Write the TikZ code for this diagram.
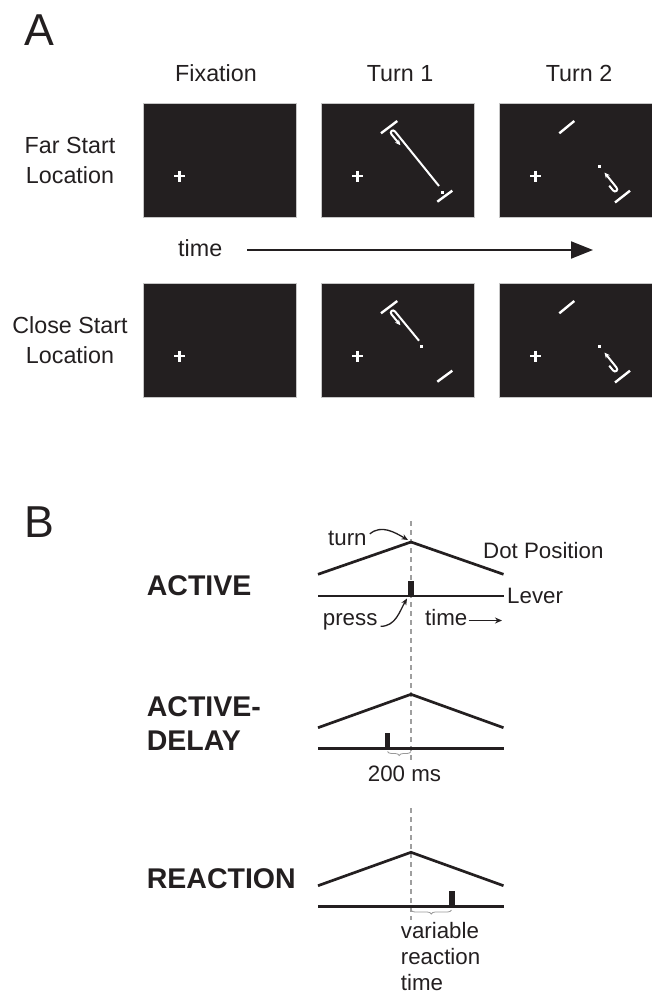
\documentclass[tikz,border=0pt]{standalone}
\usepackage{fontspec}
\setmainfont{Liberation Sans}
\usetikzlibrary{arrows.meta,decorations.pathreplacing,calc}
\definecolor{ink}{HTML}{231F20}
\begin{document}
\begin{tikzpicture}[x=1pt,y=-1pt,
  alab/.style={text=ink,font=\fontsize{23.3}{29}\selectfont,inner sep=0pt,anchor=base},
  blab/.style={text=ink,font=\fontsize{22.3}{26}\selectfont,inner sep=0pt,anchor=base west},
  cond/.style={text=ink,font=\fontsize{28.5}{33}\selectfont\bfseries,inner sep=0pt,anchor=base west},
  big/.style={text=ink,font=\fontsize{44.7}{50}\selectfont,inner sep=0pt,anchor=base west},
  screen/.style={fill=ink,draw=gray!45,line width=0.8pt},
  wl/.style={white,line width=2pt},
  wbar/.style={white,line width=2.4pt},
  wplus/.style={white,line width=2.8pt},
  wtip/.style={-{Stealth[length=5.5pt,width=5pt]}},
  trace/.style={ink,line width=2.7pt},
  lever/.style={ink,line width=2.7pt},
  turnline/.style={gray!75,line width=1.2pt,dash pattern=on 5pt off 4pt},
  callout/.style={ink,line width=1.3pt,-{Stealth[length=6.5pt,width=5.5pt]}},
  brc/.style={gray!80,line width=0.8pt,decorate,decoration={brace,amplitude=4pt}}
]
\useasboundingbox (0,0) rectangle (652,993);

% ---------------- Panel A ----------------
\node[big] (labA) at (24,45) {A};
\node[alab] (tFix) at (216,81.7) {Fixation};
\node[alab] (tT1) at (400,81.7) {Turn 1};
\node[alab] (tT2) at (579,81.7) {Turn 2};
\node[alab] (far1) at (70,153.3) {Far Start};
\node[alab] (far2) at (70,183.3) {Location};
\node[alab] (close1) at (70,333.3) {Close Start};
\node[alab] (close2) at (70,363.3) {Location};
\node[alab,anchor=base west] (timeA) at (178,256.7) {time};
\coordinate (tstart) at (247,250);
\coordinate (tend) at (593,250);
\draw[ink,line width=2pt,-{Triangle[length=22pt,width=17pt]}] (tstart) -- (tend);

% screens: row y0 = 103 (far) and 283 (close)
\foreach \yo in {103,283}{
  \foreach \xo in {143,321,499}{
    \draw[screen] (\xo,\yo) rectangle ++(153,114);
    \draw[wplus] (\xo+31,\yo+73) -- (\xo+42,\yo+73);
    \draw[wplus] (\xo+36.5,\yo+67.5) -- (\xo+36.5,\yo+78.5);
  }
  % Turn 1 panel targets
  \begin{scope}[shift={(321,\yo)}]
    \draw[wbar] (60,30.3) -- (76.3,18);
    \draw[wbar] (116.3,98.7) -- (131.3,87.7);
  \end{scope}
  % Turn 2 panel
  \begin{scope}[shift={(499,\yo)}]
    \draw[wbar] (60.3,30.3) -- (75.3,18);
    \draw[wbar] (116,99.5) -- (131,87.7);
    \fill[white] (99,61.7) rectangle (102,64.7);
    \draw[wl,wtip] (110.2,82.7) -- (114,87.35) .. controls (116.2,90.06) and (119.7,87.2) .. (117.5,84.5) -- (105.5,69.6);
  \end{scope}
}
% Turn 1 far trajectory
\begin{scope}[shift={(321,103)}]
  \draw[wl,wtip] (118,83) -- (74,28.5) .. controls (71.8,25.8) and (68.3,28.6) .. (70.5,31.35) -- (79.4,42.2);
  \fill[white] (120,88.2) rectangle (123,91.2);
\end{scope}
% Turn 1 close trajectory
\begin{scope}[shift={(321,283)}]
  \draw[wl,wtip] (98,57.7) -- (74,28.5) .. controls (71.8,25.8) and (68.3,28.6) .. (70.5,31.35) -- (79.4,42.2);
  \fill[white] (99.2,62.2) rectangle (102.2,65.2);
\end{scope}

% ---------------- Panel B ----------------
\node[big] (labB) at (24,537) {B};
\draw[turnline] (411,521) -- (411,762);
\draw[turnline] (411,808) -- (411,920);

% ACTIVE
\node[cond] (cA) at (146.7,595) {ACTIVE};
\coordinate (pkA) at (411,542);
\draw[trace] (318,574.3) -- (pkA) -- (503.5,574.3);
\draw[lever] (318,596) -- (503.5,596);
\fill[ink] (408.3,580.7) rectangle (414,596);
\coordinate (pbA) at (407,598.5);
\node[blab] (turnL) at (328,545) {turn};
\node[blab] (dotL) at (483,558) {Dot Position};
\node[blab] (levL) at (507,603) {Lever};
\node[blab] (pressL) at (322.7,625) {press};
\node[blab] (timeB) at (425,625) {time};
\draw[callout] (turnL.east) ++(3,-4) to[out=40,in=150] ($(pkA)+(-3,-2)$);
\draw[callout] ($(pressL.east)+(3,5)$) to[out=0,in=240] (pbA);
\coordinate (tbs) at (468.5,620.5);
\coordinate (tbe) at (502,620.5);
\draw[ink,line width=1.8pt,-{Stealth[length=7pt,width=6pt]}] (tbs) -- (tbe);

% ACTIVE-DELAY
\node[cond] (cD1) at (146.7,716.7) {ACTIVE-};
\node[cond] (cD2) at (146.7,750) {DELAY};
\coordinate (pkD) at (411,694.3);
\draw[trace] (318,727.7) -- (pkD) -- (503.5,727.7);
\draw[lever] (318,748.3) -- (503.5,748.3);
\fill[ink] (385,732.7) rectangle (390.3,748.3);
\draw[brc] (411,751.5) -- (387.5,751.5);
\node[alab,font=\fontsize{22.3}{26}\selectfont] (msL) at (404.5,781.7) {200 ms};

% REACTION
\node[cond] (cR) at (146.7,888.3) {REACTION};
\coordinate (pkR) at (411,852.3);
\draw[trace] (318,885.7) -- (pkR) -- (503.5,885.7);
\draw[lever] (318,906.7) -- (503.5,906.7);
\fill[ink] (449.3,891) rectangle (454.5,906.7);
\draw[brc] (451.5,910) -- (411,910);
\node[blab] (vr1) at (400.7,938.3) {variable};
\node[blab] (vr2) at (400.7,964) {reaction};
\node[blab] (vr3) at (400.7,990) {time};
\end{tikzpicture}
\end{document}
